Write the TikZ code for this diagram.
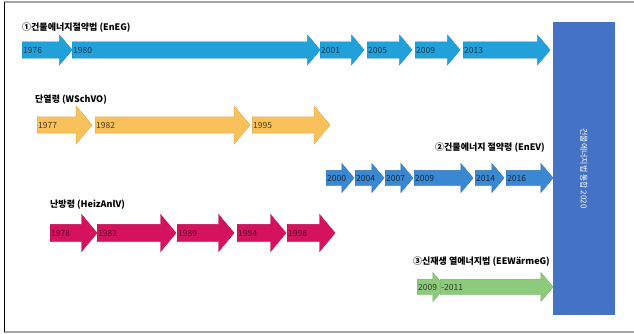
\documentclass[tikz,border=0pt]{standalone}
\usepackage{fontspec}
\setmainfont{Noto Sans CJK KR}
\usetikzlibrary{shapes.arrows}
\definecolor{egblue}{RGB}{34,160,218}
\definecolor{evblue}{RGB}{58,135,210}
\definecolor{wsorange}{RGB}{248,193,92}
\definecolor{hzred}{RGB}{213,18,94}
\definecolor{eegreen}{RGB}{141,203,124}
\definecolor{gegbar}{RGB}{68,114,196}
\begin{document}
\begin{tikzpicture}[x=1pt,y=-1pt,
  pfeil/.style={single arrow, anchor=tail, inner xsep=0pt, inner ysep=8pt,
    single arrow head extend=7pt, single arrow tip angle=100, line width=0.3pt},
  eg/.style={pfeil, fill=egblue, draw=egblue!85!black},
  ws/.style={pfeil, fill=wsorange, draw=wsorange!85!black},
  ev/.style={pfeil, fill=evblue, draw=evblue!85!black, inner ysep=7.5pt},
  hz/.style={pfeil, fill=hzred, draw=hzred!85!black, inner ysep=8.5pt, single arrow head extend=10pt},
  ee/.style={pfeil, fill=eegreen, draw=eegreen!85!black, inner ysep=7.5pt},
  yr/.style={anchor=west, inner sep=1pt, font=\fontsize{8.5}{9}\selectfont},
  titel/.style={inner sep=0pt, font=\bfseries\fontsize{9}{10}\selectfont}]
\useasboundingbox (0,0) rectangle (634,334);
\draw[gray!70, line width=1.2pt] (4,2) -- (634,2);
\draw[gray!70, line width=1.2pt] (4,332) -- (634,332);
\draw[black, line width=1pt] (4,2) -- (4,332);

\node[titel, anchor=west] (t1) at (22,28) {①건물에너지절약법 (EnEG)};
\node[eg, minimum height=50pt] (eg1) at (22,50) {};
\node[eg, minimum height=248pt] (eg2) at (72,50) {};
\node[eg, minimum height=44pt] (eg3) at (320,50) {};
\node[eg, minimum height=45pt] (eg4) at (367,50) {};
\node[eg, minimum height=45pt] (eg5) at (415,50) {};
\node[eg, minimum height=87pt] (eg6) at (463,50) {};
\node[yr, text=egblue!35!black] at (eg1.tail) {1976};
\node[yr, text=egblue!35!black] at (eg2.tail) {1980};
\node[yr, text=egblue!35!black] at (eg3.tail) {2001};
\node[yr, text=egblue!35!black] at (eg4.tail) {2005};
\node[yr, text=egblue!35!black] at (eg5.tail) {2009};
\node[yr, text=egblue!35!black] at (eg6.tail) {2013};

\node[titel, anchor=west] (t2) at (35,100) {단열령 (WSchVO)};
\node[ws, minimum height=55pt, single arrow head extend=11pt] (ws1) at (37,125) {};
\node[ws, minimum height=155pt, single arrow head extend=11pt] (ws2) at (95,125) {};
\node[ws, minimum height=78pt, single arrow head extend=11pt] (ws3) at (252,125) {};
\node[yr, text=wsorange!30!black] at (ws1.tail) {1977};
\node[yr, text=wsorange!30!black] at (ws2.tail) {1982};
\node[yr, text=wsorange!30!black] at (ws3.tail) {1995};

\node[titel, anchor=east] (t3) at (545,148) {②건물에너지 절약령 (EnEV)};
\node[ev, minimum height=28pt] (ev1) at (326,178) {};
\node[ev, minimum height=29pt] (ev2) at (355,178) {};
\node[ev, minimum height=28pt] (ev3) at (385,178) {};
\node[ev, minimum height=59pt] (ev4) at (414,178) {};
\node[ev, minimum height=29pt] (ev5) at (475,178) {};
\node[ev, minimum height=47pt] (ev6) at (506,178) {};
\node[yr, text=evblue!30!black] at (ev1.tail) {2000};
\node[yr, text=evblue!30!black] at (ev2.tail) {2004};
\node[yr, text=evblue!30!black] at (ev3.tail) {2007};
\node[yr, text=evblue!30!black] at (ev4.tail) {2009};
\node[yr, text=evblue!30!black] at (ev5.tail) {2014};
\node[yr, text=evblue!30!black] at (ev6.tail) {2016};

\node[titel, anchor=west] (t4) at (50,205) {난방령 (HeizAnlV)};
\node[hz, minimum height=47pt] (hz1) at (50,233) {};
\node[hz, minimum height=79pt] (hz2) at (97,233) {};
\node[hz, minimum height=57pt] (hz3) at (177,233) {};
\node[hz, minimum height=49pt] (hz4) at (237,233) {};
\node[hz, minimum height=48pt] (hz5) at (287,233) {};
\node[yr, text=hzred!45!black] at (hz1.tail) {1978};
\node[yr, text=hzred!45!black] at (hz2.tail) {1982};
\node[yr, text=hzred!45!black] at (hz3.tail) {1989};
\node[yr, text=hzred!45!black] at (hz4.tail) {1994};
\node[yr, text=hzred!45!black] at (hz5.tail) {1998};

\node[titel, anchor=east] (t5) at (550,262) {③신재생 열에너지법 (EEWärmeG)};
\node[ee, minimum height=28pt] (ee1) at (417,287) {};
\node[ee, minimum height=113pt] (ee2) at (440,287) {};
\node[yr, text=eegreen!30!black] at (ee1.tail) {2009};
\node[yr, text=eegreen!30!black] at (ee2.tail) {-2011};

\node[fill=gegbar, minimum width=62pt, minimum height=293pt, inner sep=0pt] (geg) at (584,168.5) {};
\node[rotate=-90, text=white, font=\fontsize{8}{9}\selectfont] at (geg) {건물에너지법 통합 2020};
\end{tikzpicture}
\end{document}
